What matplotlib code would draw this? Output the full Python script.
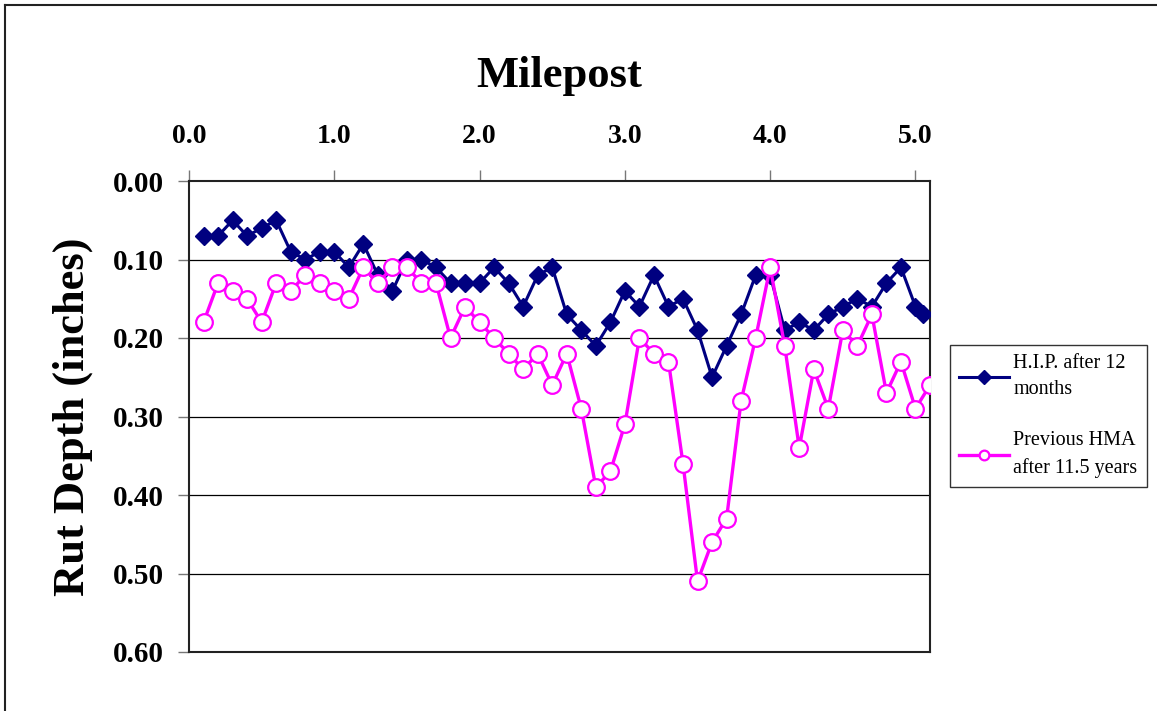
import matplotlib
matplotlib.use("Agg")
import matplotlib.pyplot as plt
from matplotlib.lines import Line2D

plt.rcParams["font.family"] = ["Liberation Serif", "DejaVu Serif"]

# milepost positions (0.1 mile spacing, last point offset)
hip_mp = [round(0.1 * i, 1) for i in range(1, 51)] + [5.05]
hma_mp = [round(0.1 * i, 1) for i in range(1, 51)] + [5.1]

hip_rut = [
    0.07, 0.07, 0.05, 0.07, 0.06, 0.05, 0.09, 0.10, 0.09, 0.09,
    0.11, 0.08, 0.12, 0.14, 0.10, 0.10, 0.11, 0.13, 0.13, 0.13,
    0.11, 0.13, 0.16, 0.12, 0.11, 0.17, 0.19, 0.21, 0.18, 0.14,
    0.16, 0.12, 0.16, 0.15, 0.19, 0.25, 0.21, 0.17, 0.12, 0.12,
    0.19, 0.18, 0.19, 0.17, 0.16, 0.15, 0.16, 0.13, 0.11, 0.16,
    0.17,
]
hma_rut = [
    0.18, 0.13, 0.14, 0.15, 0.18, 0.13, 0.14, 0.12, 0.13, 0.14,
    0.15, 0.11, 0.13, 0.11, 0.11, 0.13, 0.13, 0.20, 0.16, 0.18,
    0.20, 0.22, 0.24, 0.22, 0.26, 0.22, 0.29, 0.39, 0.37, 0.31,
    0.20, 0.22, 0.23, 0.36, 0.51, 0.46, 0.43, 0.28, 0.20, 0.11,
    0.21, 0.34, 0.24, 0.29, 0.19, 0.21, 0.17, 0.27, 0.23, 0.29,
    0.26,
]

x_ticks = [0, 1, 2, 3, 4, 5]
x_labels = ["0.0", "1.0", "2.0", "3.0", "4.0", "5.0"]
y_ticks = [0.0, 0.1, 0.2, 0.3, 0.4, 0.5, 0.6]
y_labels = ["0.00", "0.10", "0.20", "0.30", "0.40", "0.50", "0.60"]

W, H = 1157, 711
fig = plt.figure(figsize=(W / 100, H / 100), dpi=100)
ax = fig.add_axes([189 / W, 1 - 652 / H, (930 - 189) / W, (652 - 181) / H])

for y in y_ticks[1:-1]:
    ax.axhline(y, color="black", lw=0.9, zorder=1)

ax.plot(hip_mp, hip_rut, color="#000080", lw=2.2, marker="D", ms=9.5,
        mec="#000080", mfc="#000080", label="H.I.P. after 12\nmonths", zorder=3)
ax.plot(hma_mp, hma_rut, color="#FF00FF", lw=2.4, marker="o", ms=12,
        mec="#FF00FF", mfc="white", mew=1.6,
        label="Previous HMA\nafter 11.5 years", zorder=4)

ax.set_xlim(0, 5.1)
ax.set_ylim(0.6, 0.0)
ax.xaxis.tick_top()
ax.xaxis.set_label_position("top")
ax.set_xticks(x_ticks)
ax.set_xticklabels(x_labels)
ax.set_yticks(y_ticks)
ax.set_yticklabels(y_labels)
ax.tick_params(axis="x", direction="out", length=8, width=1, color="#777777",
               pad=15, labelsize=20)
ax.tick_params(axis="y", direction="out", length=8, width=1, color="#777777",
               pad=10, labelsize=21)
for lab in ax.get_xticklabels() + ax.get_yticklabels():
    lab.set_fontweight("bold")
for sp in ax.spines.values():
    sp.set_color("#222222")
    sp.set_linewidth(1.5)

ax.set_xlabel("Milepost", fontsize=32, fontweight="bold")
ax.xaxis.set_label_coords(0.5, 1.20)
ax.set_ylabel("Rut Depth (inches)", fontsize=32, fontweight="bold")
ax.yaxis.set_label_coords(-0.13, 0.5)

leg = fig.legend(loc="center left", bbox_to_anchor=(950 / W, 1 - 416 / H),
                 fontsize=14.5, frameon=True, fancybox=False, edgecolor="black",
                 handlelength=2.5, handletextpad=0.2, borderpad=0.45,
                 labelspacing=1.6, borderaxespad=0)
leg.get_frame().set_linewidth(1.0)
for t in leg.get_texts():
    t.set_linespacing(1.5)
for h in leg.legend_handles:
    h.set_markersize(7)

# outer chart border (top and left visible)
fig.add_artist(Line2D([5 / W, 1], [1 - 4.5 / H, 1 - 4.5 / H], color="#222222", lw=1.5))
fig.add_artist(Line2D([5.5 / W, 5.5 / W], [0, 1 - 4.5 / H], color="#222222", lw=1.5))

fig.savefig("out.png", dpi=100)
